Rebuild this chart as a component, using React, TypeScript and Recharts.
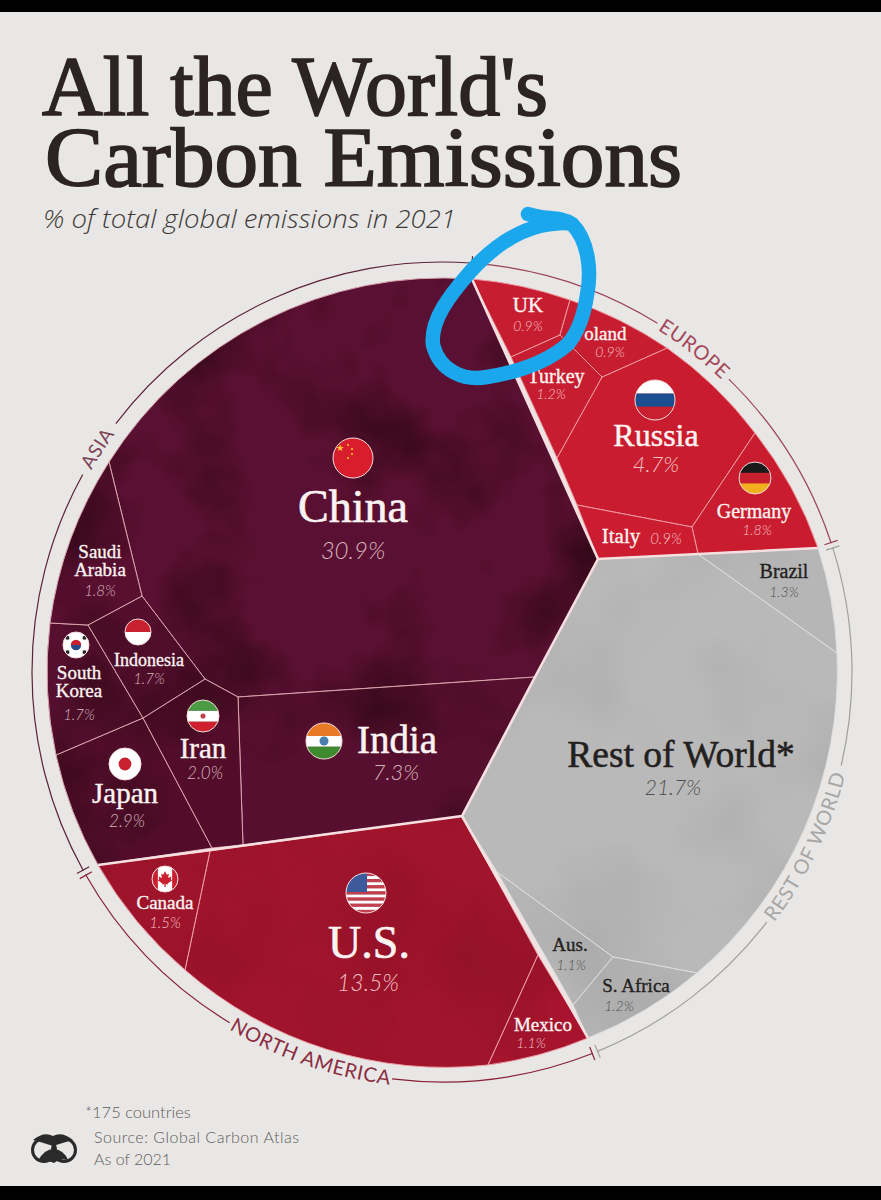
import React from "react";
import { PieChart, Pie, Cell, ScatterChart, Scatter, XAxis, YAxis } from "recharts";

const W = 881;
const H = 1200;

// ---- data ----
const countries = ["China","India","Japan","Iran","South\nKorea","Indonesia","Saudi\nArabia","U.S.","Canada","Mexico","Russia","Germany","UK","Poland","Turkey","Italy","Rest of World*","Brazil","Aus.","S. Africa"];
const shares = [30.9,7.3,2.9,2.0,1.7,1.7,1.8,13.5,1.5,1.1,4.7,1.8,0.9,0.9,1.2,0.9,21.7,1.3,1.1,1.2];
const ringNames = ["Europe","gap","Europe","gap","Rest of World","gap","Rest of World","gap","North America","gap","North America","gap","Asia","gap","Asia","gap"];
const ringSpans = [27.1,12.7,27.3,0.6,30.9,24.4,30.2,0.6,28.6,24.2,29.2,0.6,57.8,8.5,56.7,0.6];

// ---- geometry: Voronoi cell outlines, in picture units, clockwise ----
const cellOutlines: number[][][] = [
  [[472,279],[598,559],[535,677],[238,697],[205,679],[142,596],[109,462]],
  [[238,697],[535,677],[462,816],[243,845]],
  [[56,755],[143,718],[212,848],[98,865]],
  [[205,679],[238,697],[243,845],[212,848],[143,718]],
  [[50,623],[88,625],[143,718],[56,755]],
  [[142,596],[205,679],[143,718],[88,625]],
  [[109,462],[142,596],[88,625],[50,623]],
  [[210,851],[462,816],[538,955],[488,1065],[185,970]],
  [[98,865],[210,851],[185,970]],
  [[538,955],[588,1038],[488,1065]],
  [[602,377],[667,348],[755,433],[692,527],[577,505],[557,458]],
  [[755,433],[818,548],[698,554],[692,527]],
  [[472,279],[570,300],[560,335],[511,357]],
  [[570,300],[667,348],[602,377],[560,335]],
  [[511,357],[560,335],[602,377],[557,458]],
  [[577,505],[692,527],[698,554],[598,559]],
  [[598,559],[698,554],[837,653],[697,973],[613,957],[497,872],[462,816],[535,677]],
  [[698,554],[818,548],[837,653]],
  [[497,872],[613,957],[573,1005]],
  [[613,957],[697,973],[588,1038],[573,1005]],
];
// index of the vertex from which the outline follows the circle (-1: none)
const arcFrom = [6,-1,3,-1,3,-1,3,3,2,1,1,0,0,0,-1,-1,2,1,-1,1];
const cellFills = ["#5a1032","#560f2e","#530d2b","#530d2b","#560f2f","#540e2d","#580f30","#a0142c","#9e142b","#a8142e","#c91d2f","#c91d2f","#c71d30","#c71d30","#c71d30","#cb1d2f","#b9b9b9","#b6b6b6","#b7b7b7","#b5b5b5"];
const seams = ["#d9a3ad","#d9a3ad","#d9a3ad","#d9a3ad","#d9a3ad","#d9a3ad","#d9a3ad","#eda0a8","#eda0a8","#eda0a8","#ee98a0","#ee98a0","#ee98a0","#ee98a0","#ee98a0","#ee98a0","#dedede","#dedede","#dedede","#dedede"];
const mottles = ["mottleDark","mottleDark","mottleDark","mottleDark","mottleDark","mottleDark","mottleDark","mottleRed","mottleRed","mottleRed","","","","","","","mottleGrey","mottleGrey","mottleGrey","mottleGrey"];
const continentBorders: number[][][] = [
  [[472,279],[598,559],[818,548]],
  [[98,865],[462,816],[535,677],[598,559]],
  [[462,816],[588,1038]],
];

// [x, baseline y, font size] for names and shares, same order as countries
const nameSpots = [[353,522,46],[397,753,39],[125,803,29],[203,758,29],[79,679,19],[149,666,18],[100,558,19],[369,958,46],[165,909,19],[543,1031,19],[656,446,32],[754,518,20],[528,312,21],[600,340,19],[556,383,20],[621,543,21],[681,767,37.5],[784,578,20],[570,951,19],[636,992,19]];
const shareSpots = [[353,559,24],[396,780,22],[127,827,17],[205,779,17],[79,720,15],[149,684,15],[100,596,15],[368,991,23],[165,928,15],[531,1048,14],[656,472,22],[757,535,14],[528,331,14],[610,357,14],[551,399,14],[666,544,15],[673,795,21],[784,597,14],[571,970,14],[619,1011,14]];
const flagSpots: (number[] | null)[] = [[353,458,20],[324,741,18],[125,764,16],[203,716,16],[76,645,13],[138,632,13],null,[366,893,20],[165,879,13],null,[655,400,20],[755,478,16],null,null,null,null,null,null,null,null];
const flagCodes = ["cn","in","jp","ir","kr","id","","us","ca","","ru","de","","","","","","","",""];

const cx0 = 442, cy0 = 672, R = 395, ringR = 410;
const ringFill: Record<string,string> = { Europe:"#9a4154", "Rest of World":"#a0a0a0", "North America":"#8a2038", Asia:"#5d2238" };
const serif = "'Liberation Serif', serif";
const sans = "Lato, 'Open Sans', sans-serif";

const isDark = (i:number) => i < 16;

function cellPath(points:{x:number;y:number}[], arc:number) {
  let d = "";
  points.forEach((p,i)=>{
    if (i===0) d += `M${p.x} ${p.y}`;
    else if (arc===i-1) d += `A${R} ${R} 0 0 1 ${p.x} ${p.y}`;
    else d += `L${p.x} ${p.y}`;
  });
  if (arc===points.length-1) d += `A${R} ${R} 0 0 1 ${points[0].x} ${points[0].y}`;
  return d+"Z";
}

function Flag({code,cx,cy,r}:{code:string;cx:number;cy:number;r:number}) {
  const id = `f-${code}`;
  const u = r/20;
  const rect = (y:number,h:number,fill:string) => <rect x={cx-r} y={cy-r+y*2*r} width={2*r} height={h*2*r} fill={fill}/>;
  let body: React.ReactNode = null;
  if (code==="cn") body = <><rect x={cx-r} y={cy-r} width={2*r} height={2*r} fill="#d81e2c"/><polygon points={`${cx-13*u},${cy-14*u} ${cx-10.5*u},${cy-7*u} ${cx-17*u},${cy-11*u} ${cx-9*u},${cy-11*u} ${cx-15*u},${cy-7*u}`} fill="#f7c531"/>{[[-5,-13],[-1,-9],[-1,-4],[-5,0]].map((s,i)=><circle key={i} cx={cx+s[0]*u} cy={cy+s[1]*u} r={1.1*u} fill="#f7c531"/>)}</>;
  if (code==="in") body = <>{rect(0,.36,"#e87a25")}{rect(.36,.3,"#fff")}{rect(.66,.34,"#3f8a2e")}<circle cx={cx} cy={cy} r={5*u} fill="#4a7fb0"/></>;
  if (code==="jp") body = <><rect x={cx-r} y={cy-r} width={2*r} height={2*r} fill="#fff"/><circle cx={cx} cy={cy} r={r*.4} fill="#c9202f"/></>;
  if (code==="ir") body = <>{rect(0,.34,"#4a9b44")}{rect(.34,.34,"#fff")}{rect(.68,.32,"#cf2030")}<circle cx={cx} cy={cy} r={r*.16} fill="#c0404a"/></>;
  if (code==="kr") body = <><rect x={cx-r} y={cy-r} width={2*r} height={2*r} fill="#fff"/><path d={`M${cx-r*.4} ${cy}A${r*.4} ${r*.4} 0 0 1 ${cx+r*.4} ${cy}Z`} fill="#c9202f"/><path d={`M${cx-r*.4} ${cy}A${r*.4} ${r*.4} 0 0 0 ${cx+r*.4} ${cy}Z`} fill="#2a4a8a"/>{[[-.65,-.55],[.65,-.55],[-.65,.55],[.65,.55]].map((s,i)=><rect key={i} x={cx+s[0]*r-r*.13} y={cy+s[1]*r-r*.13} width={r*.26} height={r*.26} fill="#222"/>)}</>;
  if (code==="id") body = <>{rect(0,.5,"#c9202f")}{rect(.5,.5,"#fff")}</>;
  if (code==="us") body = <>{[0,1,2,3,4,5,6,7,8,9,10,11,12].map(i=>rect(i/13,1/13,i%2?"#fff":"#c2404e"))}<rect x={cx-r} y={cy-r} width={r*1.05} height={r*.95} fill="#3d5a9c"/></>;
  if (code==="ca") {
    const leaf=[[0,-.6],[.14,-.32],[.3,-.4],[.24,-.08],[.5,-.2],[.44,.02],[.56,.1],[.2,.34],[.24,.42],[.05,.38],[.05,.62],[-.05,.62],[-.05,.38],[-.24,.42],[-.2,.34],[-.56,.1],[-.44,.02],[-.5,-.2],[-.24,-.08],[-.3,-.4],[-.14,-.32]];
    body = <><rect x={cx-r} y={cy-r} width={2*r} height={2*r} fill="#fff"/><rect x={cx-r} y={cy-r} width={r*.45} height={2*r} fill="#c9202f"/><rect x={cx+r*.55} y={cy-r} width={r*.45} height={2*r} fill="#c9202f"/><polygon points={leaf.map(q=>`${cx+q[0]*r},${cy+q[1]*r}`).join(" ")} fill="#c9202f"/></>;
  }
  if (code==="ru") body = <>{rect(0,.34,"#fff")}{rect(.34,.33,"#1b4f92")}{rect(.67,.33,"#c9202f")}</>;
  if (code==="de") body = <>{rect(0,.34,"#1a1a1a")}{rect(.34,.33,"#c9202f")}{rect(.67,.33,"#f2b01e")}</>;
  return <g><clipPath id={id}><circle cx={cx} cy={cy} r={r}/></clipPath><g clipPath={`url(#${id})`}>{body}</g><circle cx={cx} cy={cy} r={r} fill="none" stroke="#f3dcdc" strokeWidth={1}/></g>;
}

const nameData = countries.map((n,i)=>({ x:nameSpots[i][0], y:nameSpots[i][1], size:nameSpots[i][2], name:n, i }));
const shareData = shares.map((v,i)=>({ x:shareSpots[i][0], y:shareSpots[i][1], size:shareSpots[i][2], label:`${v.toFixed(1)}%`, i }));
const flagData = flagSpots.map((s,i)=> s ? ({ x:s[0], y:s[1], r:s[2], code:flagCodes[i] }) : null).filter(Boolean) as any[];

const NoDot = () => <g/>;

function ringArc(a0:number,a1:number,r:number) {
  const pt=(a:number)=>[cx0+r*Math.sin(a*Math.PI/180), cy0-r*Math.cos(a*Math.PI/180)];
  const [x0,y0]=pt(a0), [x1,y1]=pt(a1);
  return `M${x0} ${y0}A${r} ${r} 0 0 ${a1>a0?1:0} ${x1} ${y1}`;
}
const breaks:[number,string,string][] = [[4.6,"#5d2238","#9a4154"],[72,"#9a4154","#a0a0a0"],[158.1,"#a0a0a0","#8a2038"],[240.7,"#8a2038","#5d2238"]];

function Overlay() {
  return (
    <svg width={W} height={H} style={{position:"absolute",left:0,top:0,pointerEvents:"none"}}>
      <defs>
        <filter id="mottleDark" x="0" y="0" width="100%" height="100%" colorInterpolationFilters="sRGB">
          <feTurbulence type="fractalNoise" baseFrequency="0.008" numOctaves="4" seed="11" result="n"/>
          <feColorMatrix in="n" type="matrix" values="0 0 0 0 0.2  0 0 0 0 0.03  0 0 0 0 0.09  2.4 0 0 0 -1.1" result="d"/>
          <feComposite in="d" in2="SourceGraphic" operator="atop"/>
        </filter>
        <filter id="mottleRed" x="0" y="0" width="100%" height="100%" colorInterpolationFilters="sRGB">
          <feTurbulence type="fractalNoise" baseFrequency="0.009" numOctaves="4" seed="5" result="n"/>
          <feColorMatrix in="n" type="matrix" values="0 0 0 0 0.55  0 0 0 0 0.06  0 0 0 0 0.14  1.4 0 0 0 -0.6" result="d"/>
          <feComposite in="d" in2="SourceGraphic" operator="atop"/>
        </filter>
        <filter id="mottleGrey" x="0" y="0" width="100%" height="100%" colorInterpolationFilters="sRGB">
          <feTurbulence type="fractalNoise" baseFrequency="0.007" numOctaves="3" seed="3" result="n"/>
          <feColorMatrix in="n" type="matrix" values="0 0 0 0 0.6  0 0 0 0 0.6  0 0 0 0 0.6  0.9 0 0 0 -0.38" result="d"/>
          <feComposite in="d" in2="SourceGraphic" operator="atop"/>
        </filter>
        <path id="pE" d={ringArc(8,68,404.5)}/>
        <path id="pA" d={ringArc(273,333,404.5)}/>
        <path id="pR" d={ringArc(145.6,85.6,416)}/>
        <path id="pN" d={ringArc(229,169,416)}/>
      </defs>

      <rect x={0} y={0} width={W} height={12} fill="#000"/>
      <rect x={0} y={1186} width={W} height={14} fill="#000"/>

      <text x={42} y={115} fontFamily={serif} fontSize={84} fill="#2c2422" stroke="#2c2422" strokeWidth={1.7} textLength={506} lengthAdjust="spacingAndGlyphs">All the World's</text>
      <text x={45} y={186} fontFamily={serif} fontSize={84} fill="#2c2422" stroke="#2c2422" strokeWidth={1.7} textLength={637} lengthAdjust="spacingAndGlyphs">Carbon Emissions</text>
      <text x={43} y={228} fontFamily="'Open Sans', sans-serif" fontStyle="italic" fontWeight={300} fontSize={25} fill="#3f3a38" textLength={413} lengthAdjust="spacingAndGlyphs">% of total global emissions in 2021</text>

      {breaks.map((b,i)=>{
        const tick=(a:number,c:string)=>{const s=Math.sin(a*Math.PI/180),k=Math.cos(a*Math.PI/180);return <line key={a} x1={cx0+403*s} y1={cy0-403*k} x2={cx0+417*s} y2={cy0-417*k} stroke={c} strokeWidth={1.2}/>;};
        return <g key={i}>{tick(b[0]-0.4,b[1])}{tick(b[0]+0.4,b[2])}</g>;
      })}

      <text fontFamily={sans} fontSize={20} fill="#a5475a" letterSpacing={0.6}><textPath href="#pE" startOffset="50%" textAnchor="middle">EUROPE</textPath></text>
      <text fontFamily={sans} fontSize={19} fill="#7c4255" letterSpacing={0.5}><textPath href="#pA" startOffset="50%" textAnchor="middle">ASIA</textPath></text>
      <text fontFamily={sans} fontSize={20} fill="#a6a6a6" letterSpacing={0.6}><textPath href="#pR" startOffset="50%" textAnchor="middle">REST OF WORLD</textPath></text>
      <text fontFamily={sans} fontSize={20} fill="#8c2c42" letterSpacing={0.6}><textPath href="#pN" startOffset="50%" textAnchor="middle">NORTH AMERICA</textPath></text>

      <path d="M528 214 C545 220 560 216 572 224 C588 240 592 270 587 295 C584 315 578 332 568 344 C552 358 525 371 487 377 C465 381 440 372 433 345 C430 320 450 295 470 272 C490 250 515 232 540 226 C550 224 565 222 572 224" fill="none" stroke="#1ba7ec" strokeWidth={14.5} strokeLinecap="round" strokeLinejoin="round"/>

      <text x={85} y={1118} fontFamily={sans} fontWeight={300} fontSize={16.5} fill="#5f5c5a">*175 countries</text>
      <text x={94} y={1143} fontFamily={sans} fontWeight={300} fontSize={16} fill="#5f5c5a" textLength={205}>Source: Global Carbon Atlas</text>
      <text x={94} y={1165} fontFamily={sans} fontWeight={300} fontSize={16} fill="#5f5c5a">As of 2021</text>
      <g fill="none" stroke="#2a2a2a" strokeWidth={3}>
        <ellipse cx={44} cy={1150} rx={11.5} ry={11.5}/>
        <ellipse cx={64} cy={1150} rx={11.5} ry={11.5}/>
      </g>
      <path d="M33 1140 Q44 1131 53 1136 Q62 1131 73 1140 Q62 1143 53 1146 Q44 1143 33 1140Z M38 1161 Q44 1149 54 1149 Q64 1150 68 1160 Q60 1158 54 1163 Q46 1159 38 1161Z" fill="#2a2a2a"/>
    </svg>
  );
}

export default function App() {
  const ringData = ringNames.map((n,i)=>({ name:n, span:ringSpans[i] }));
  return (
    <div style={{position:"absolute",left:0,top:0,width:W,height:H,background:"#e8e7e5",overflow:"hidden"}}>
      <div style={{position:"absolute",left:0,top:0}}>
        <PieChart width={W} height={H} margin={{top:0,right:0,bottom:0,left:0}}>
          <Pie data={ringData} dataKey="span" nameKey="name" cx={cx0} cy={cy0} innerRadius={ringR-0.6} outerRadius={ringR+0.6} startAngle={85.4} endAngle={-274.6} stroke="none" isAnimationActive={false} label={false} labelLine={false}>
            {ringData.map((d,i)=><Cell key={i} fill={d.name==="gap"?"transparent":ringFill[d.name]}/>)}
          </Pie>
        </PieChart>
      </div>
      <div style={{position:"absolute",left:0,top:0}}>
        <ScatterChart width={W} height={H} margin={{top:0,right:0,bottom:0,left:0}}>
          <XAxis type="number" dataKey="x" domain={[0,W]} hide/>
          <YAxis type="number" dataKey="y" domain={[0,H]} reversed hide/>
          {cellOutlines.map((o,i)=>(
            <Scatter key={`c${i}`} data={o.map(p=>({x:p[0],y:p[1]}))} shape={NoDot} isAnimationActive={false}
              line={(p:any)=>{
                const d=cellPath(p.points,arcFrom[i]);
                return <g key={i}><path d={d} fill={cellFills[i]} filter={mottles[i]?`url(#${mottles[i]})`:undefined}/><path d={d} fill="none" stroke={seams[i]} strokeWidth={1}/></g>;
              }}/>
          ))}
          {continentBorders.map((o,i)=>(
            <Scatter key={`b${i}`} data={o.map(p=>({x:p[0],y:p[1]}))} shape={NoDot} isAnimationActive={false}
              line={(p:any)=>(<polyline key={i} points={p.points.map((q:any)=>`${q.x},${q.y}`).join(" ")} fill="none" stroke="#f5dfe0" strokeWidth={2.6}/>)}/>
          ))}
          <Scatter data={flagData} isAnimationActive={false} shape={(p:any)=><Flag code={p.code ?? p.payload?.code} cx={p.cx} cy={p.cy} r={p.r ?? p.payload?.r}/>}/>
          <Scatter data={nameData} isAnimationActive={false} shape={(p:any)=>{
            const d=p.payload ?? p; const lines=String(d.name).split("\n");
            const c=isDark(d.i)?"#fbf3f1":"#232120";
            return <text x={p.cx} y={p.cy} textAnchor="middle" fontFamily={serif} fontSize={d.size} fill={c} stroke={c} strokeWidth={Math.max(0.35,d.size*0.014)}>{lines.map((l:string,k:number)=><tspan key={k} x={p.cx} dy={k?d.size*0.97:0}>{l}</tspan>)}</text>;
          }}/>
          <Scatter data={shareData} isAnimationActive={false} shape={(p:any)=>{
            const d=p.payload ?? p;
            const c=d.i<7?"#d6b3bd":d.i<16?"#f4c0c5":"#4f4f4f";
            return <text x={p.cx} y={p.cy} textAnchor="middle" fontFamily={sans} fontStyle="italic" fontWeight={300} fontSize={d.size} fill={c}>{d.label}</text>;
          }}/>
        </ScatterChart>
      </div>
      <Overlay/>
    </div>
  );
}
